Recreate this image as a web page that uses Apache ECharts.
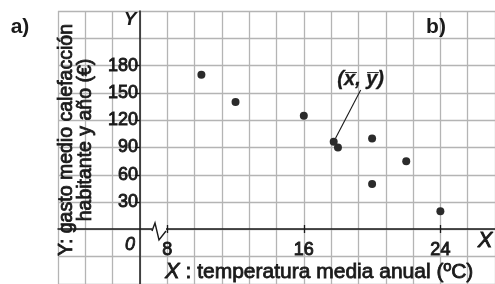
<!DOCTYPE html>
<html>
<head>
<meta charset="utf-8">
<script src="https://cdn.jsdelivr.net/npm/echarts@6/dist/echarts.min.js"></script>
<style>
  html, body { margin: 0; padding: 0; background: #fff; }
  #chart { width: 495px; height: 284px; }
</style>
</head>
<body>
<div id="chart"></div>
<script>
// temperatura media anual (ºC) y gasto medio en calefacción (€)
var tempX = [10, 12, 16, 18, 20, 20, 22, 24];
var gastoY = [170, 140, 125, 90, 100, 50, 75, 20];
var meanPoint = [17.75, 96.25];
var xTickLabels = [8, 16, 24];
var yTickLabels = [30, 60, 90, 120, 150, 180];

var font = "'Liberation Sans', Arial, sans-serif";
var ink = '#1a1a1a';
var gridColor = '#b4b4b4';

var points = tempX.map(function (x, i) { return [x, gastoY[i]]; });

var chart = echarts.init(document.getElementById('chart'));

var xBase = { type: 'value', min: 1.6, max: 27.2, interval: 1.6, position: 'bottom' };
var yBase = { type: 'value', min: -60, max: 240, interval: 30, position: 'left' };

var option = {
    animation: false,
    backgroundColor: '#fff',
    grid: { left: 58, top: 11, width: 437, height: 275 },
    xAxis: [
        // paper grid
        Object.assign({}, xBase, {
            axisLine: { show: false }, axisTick: { show: false }, axisLabel: { show: false },
            splitLine: { show: true, lineStyle: { color: gridColor, width: 1.3 } }
        }),
        // visible X axis with outside ticks and labels
        Object.assign({}, xBase, {
            offset: -55,
            axisLine: { show: true, onZero: false, lineStyle: { color: ink, width: 1.5 } },
            axisTick: { show: true, length: 4, customValues: xTickLabels, lineStyle: { color: ink, width: 1.3 } },
            axisLabel: {
                customValues: xTickLabels, margin: 12,
                fontFamily: font, fontSize: 18, color: ink,
                textBorderColor: ink, textBorderWidth: 0.9
            },
            splitLine: { show: false }
        }),
        // ticks crossing upwards
        Object.assign({}, xBase, {
            offset: -55,
            axisLine: { show: false },
            axisTick: { show: true, inside: true, length: 4, customValues: xTickLabels, lineStyle: { color: ink, width: 1.3 } },
            axisLabel: { show: false },
            splitLine: { show: false }
        })
    ],
    yAxis: [
        Object.assign({}, yBase, {
            axisLine: { show: false }, axisTick: { show: false }, axisLabel: { show: false },
            splitLine: { show: true, lineStyle: { color: gridColor, width: 1.3 } }
        }),
        Object.assign({}, yBase, {
            offset: -82,
            axisLine: { show: true, onZero: false, lineStyle: { color: ink, width: 1.5 } },
            axisTick: { show: true, length: 5, customValues: yTickLabels, lineStyle: { color: ink, width: 1.3 } },
            axisLabel: {
                customValues: yTickLabels, margin: 2,
                fontFamily: font, fontSize: 18, color: ink,
                textBorderColor: ink, textBorderWidth: 0.9
            },
            splitLine: { show: false }
        })
    ],
    series: [{
        type: 'scatter',
        xAxisIndex: 0, yAxisIndex: 0,
        data: points,
        symbolSize: 8,
        itemStyle: { color: '#2b2b2b', opacity: 1 },
        z: 5
    }, {
        type: 'scatter',
        xAxisIndex: 0, yAxisIndex: 0,
        data: [meanPoint],
        symbolSize: 8,
        itemStyle: { color: '#2b2b2b', opacity: 1 },
        z: 5,
        label: {
            show: true,
            formatter: '(x\u0305, y\u0305)',
            position: [31, -58],
            align: 'center', verticalAlign: 'middle',
            fontFamily: font, fontSize: 20, fontStyle: 'italic', fontWeight: 'bold',
            color: ink, opacity: 1, textBorderColor: ink, textBorderWidth: 0.3
        },
        labelLine: { show: true, lineStyle: { color: ink, width: 1.1, opacity: 1 } }
    }],
    graphic: [
        // break on the X axis
        { type: 'rect', shape: { x: 152, y: 228, width: 14, height: 6 }, style: { fill: '#fff' }, z: 100 },
        { type: 'polyline', shape: { points: [[152, 231], [155, 223], [159, 240], [166, 231]] },
          style: { stroke: ink, lineWidth: 1.4, fill: null }, z: 101 },
        { type: 'text', x: 20, y: 27, style: { text: 'a)', font: 'bold 21px ' + font, fill: ink, align: 'center', verticalAlign: 'middle' }, z: 100 },
        { type: 'text', x: 436, y: 27, style: { text: 'b)', font: 'bold 21px ' + font, fill: ink, align: 'center', verticalAlign: 'middle' }, z: 100 },
        { type: 'text', x: 130, y: 20, style: { text: 'Y', font: 'italic bold 19px ' + font, fill: ink, align: 'center', verticalAlign: 'middle' }, z: 100 },
        { type: 'text', x: 130, y: 245, style: { text: '0', font: 'italic 18px ' + font, fill: ink, align: 'center', verticalAlign: 'middle', stroke: ink, lineWidth: 0.8 }, z: 100 },
        { type: 'text', x: 485, y: 241, style: { text: 'X', font: 'italic 22px ' + font, fill: ink, align: 'center', verticalAlign: 'middle', stroke: ink, lineWidth: 0.9 }, z: 100 },
        { type: 'text', x: 165, y: 272, style: {
            text: '{i|X} : temperatura media anual (ºC)',
            font: '21px ' + font, fill: ink, align: 'left', verticalAlign: 'middle',
            stroke: ink, lineWidth: 0.8,
            rich: { i: { fontStyle: 'italic', fontSize: 22, fontFamily: font } }
        }, z: 100 },
        { type: 'text', x: 76, y: 140, rotation: Math.PI / 2, style: {
            text: 'Y: gasto medio calefacción\nhabitante y año (€)',
            font: '19.5px ' + font, fill: ink, align: 'center', verticalAlign: 'middle',
            lineHeight: 19, stroke: ink, lineWidth: 0.8
        }, z: 100 }
    ]
};

chart.setOption(option);
</script>
</body>
</html>
